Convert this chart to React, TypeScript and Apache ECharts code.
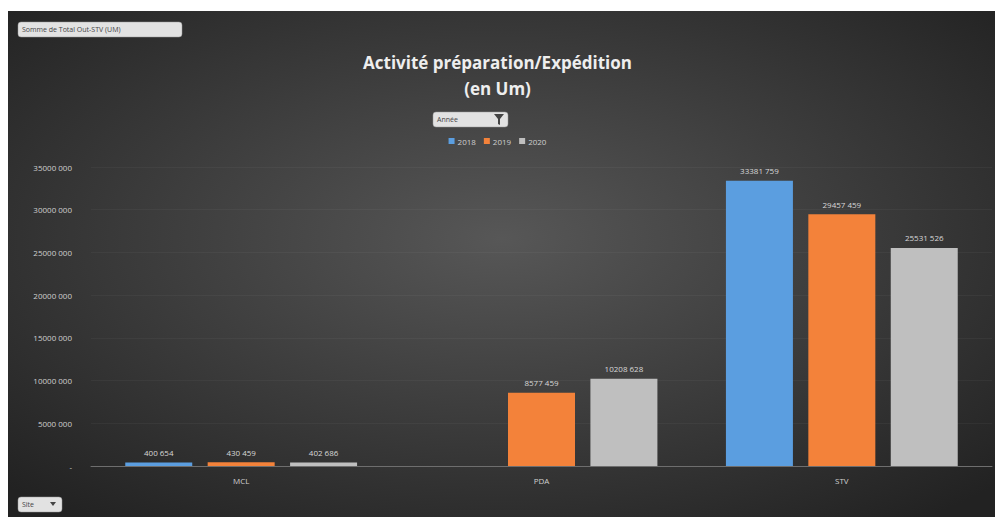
import React, { useEffect, useRef } from "react";
import * as echarts from "echarts";

const categories = ["MCL", "PDA", "STV"];
const years = ["2018", "2019", "2020"];
const values2018 = [400654, null, 33381759];
const values2019 = [430459, 8577459, 29457459];
const values2020 = [402686, 10208628, 25531526];
const colors = ["#5b9ee0", "#f3823a", "#bfbfbf"];

const fmt = (v: number) =>
  v >= 1000 ? Math.floor(v / 1000) + " " + String(v % 1000).padStart(3, "0") : String(v);

export default function App() {
  const ref = useRef<HTMLDivElement>(null);
  useEffect(() => {
    document.body.style.margin = "0";
    const chart = echarts.init(ref.current!, null, { renderer: "svg" });
    const series = [values2018, values2019, values2020].map((d, i) => ({
      name: years[i],
      type: "bar",
      data: d,
      barWidth: 67,
      barGap: "23%",
      itemStyle: { color: colors[i] },
      label: {
        show: true,
        position: "top",
        distance: 6,
        color: "#d8d8d8",
        fontSize: 8,
        fontFamily: "Open Sans",
        formatter: (p: any) => (p.value == null ? "" : fmt(p.value)),
      },
    }));
    chart.setOption({
      animation: false,
      backgroundColor: "#ffffff",
      title: {
        text: "Activité préparation/Expédition\n(en Um)",
        left: "center",
        top: 44,
        textStyle: {
          color: "#eeeeee",
          fontSize: 17,
          fontWeight: "bold",
          fontFamily: "Open Sans",
          lineHeight: 26,
        },
      },
      legend: {
        top: 132,
        left: "center",
        itemWidth: 6,
        itemHeight: 6,
        itemGap: 8,
        icon: "rect",
        textStyle: { color: "#cfcfcf", fontSize: 8, fontFamily: "Open Sans", padding: [0, 0, 0, -2] },
        data: years,
      },
      grid: { left: 91, right: 3, top: 167, bottom: 51 },
      xAxis: {
        type: "category",
        data: categories,
        axisLine: { lineStyle: { color: "#6e6e6e" } },
        axisTick: { show: false },
        axisLabel: { color: "#cfcfcf", fontSize: 8, fontFamily: "Open Sans", margin: 10 },
      },
      yAxis: {
        type: "value",
        min: 0,
        max: 35000000,
        interval: 5000000,
        axisLine: { show: false },
        axisTick: { show: false },
        splitLine: { lineStyle: { color: "rgba(255,255,255,0.04)" } },
        axisLabel: {
          color: "#cfcfcf",
          fontSize: 8,
          fontFamily: "Open Sans",
          margin: 19,
          formatter: (v: number) => (v === 0 ? "-" : fmt(v)),
        },
      },
      graphic: [
        {
          type: "rect",
          z: -10,
          silent: true,
          shape: { x: 8, y: 11, width: 987, height: 506 },
          style: {
            fill: {
              type: "radial",
              x: 0.5,
              y: 0.45,
              r: 0.7,
              colorStops: [
                { offset: 0, color: "#575757" },
                { offset: 1, color: "#222222" },
              ],
            },
          },
        },
        {
          type: "rect",
          shape: { x: 18, y: 22, width: 164, height: 15, r: 3 },
          style: { fill: "#e2e2e2", stroke: "#999", lineWidth: 0.5 },
        },
        {
          type: "text",
          x: 22,
          y: 29.5,
          style: { text: "Somme de Total Out-STV (UM)", fill: "#444", fontSize: 7, fontFamily: "Open Sans", verticalAlign: "middle" },
        },
        {
          type: "rect",
          shape: { x: 433, y: 112, width: 75, height: 15, r: 3 },
          style: { fill: "#e2e2e2", stroke: "#999", lineWidth: 0.5 },
        },
        {
          type: "text",
          x: 437,
          y: 119.5,
          style: { text: "Année", fill: "#444", fontSize: 7, fontFamily: "Open Sans", verticalAlign: "middle" },
        },
        {
          type: "polygon",
          shape: { points: [[494, 114], [504, 114], [500, 119], [500, 125], [498, 124], [498, 119]] },
          style: { fill: "#444" },
        },
        {
          type: "rect",
          shape: { x: 18, y: 497, width: 44, height: 15, r: 3 },
          style: { fill: "#e2e2e2", stroke: "#999", lineWidth: 0.5 },
        },
        {
          type: "text",
          x: 22,
          y: 504.5,
          style: { text: "Site", fill: "#444", fontSize: 7, fontFamily: "Open Sans", verticalAlign: "middle" },
        },
        {
          type: "polygon",
          shape: { points: [[50, 502], [56, 502], [53, 506]] },
          style: { fill: "#444" },
        },
      ],
      series,
    });
    return () => chart.dispose();
  }, []);
  return <div ref={ref} style={{ width: 995, height: 517 }} />;
}
